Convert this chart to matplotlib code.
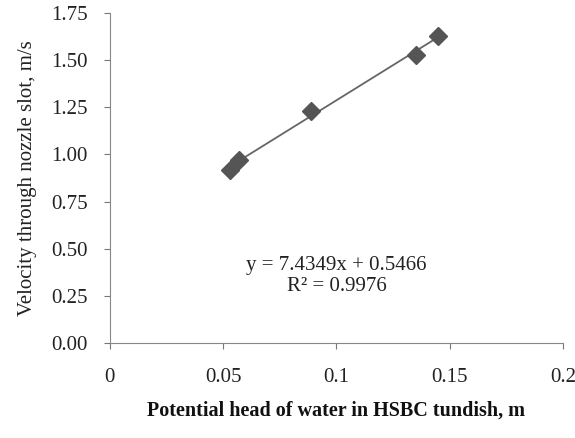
import numpy as np
import matplotlib
matplotlib.use('Agg')
import matplotlib.pyplot as plt

plt.rcParams['font.family'] = ['Liberation Serif', 'DejaVu Serif']

# potential head (m) and velocity (m/s)
head = [0.053, 0.057, 0.089, 0.135, 0.145]
velocity = [0.92, 0.97, 1.23, 1.53, 1.63]
xticks = [0, 0.05, 0.1, 0.15, 0.2]
xtick_labels = ['0', '0.05', '0.1', '0.15', '0.2']
yticks = [0, 0.25, 0.5, 0.75, 1.0, 1.25, 1.5, 1.75]

fig = plt.figure(figsize=(5.75, 4.38), dpi=100)
ax = fig.add_axes([0.191, 0.217, 0.788, 0.753])

# trendline
k, b = np.polyfit(head, velocity, 1)
xl = np.array([min(head), max(head)])
ax.plot(xl, k * xl + b, color='#666666', lw=1.3, zorder=2)
ax.plot(head, velocity, 'D', color='#555555', ms=9, zorder=3)

ax.text(0.1, 0.41, 'y = 7.4349x + 0.5466', ha='center', va='center',
        fontsize=15, color='#222222')
ax.text(0.1, 0.30, 'R² = 0.9976', ha='center', va='center',
        fontsize=15, color='#222222')

ax.set_xlim(0, 0.2)
ax.set_ylim(0, 1.75)
ax.set_xticks(xticks)
ax.set_xticklabels(xtick_labels)
ax.set_yticks(yticks)
ax.set_yticklabels(['%.2f' % v for v in yticks])
ax.tick_params(labelsize=15, length=4, color='#777777', labelcolor='#222222')
ax.tick_params(axis='x', pad=14)
ax.tick_params(axis='y', pad=12)

for s in ['top', 'right']:
    ax.spines[s].set_visible(False)
for s in ['left', 'bottom']:
    ax.spines[s].set_color('#888888')

ax.set_xlabel('Potential head of water in HSBC tundish, m', fontsize=14.5,
              fontweight='bold', labelpad=10, color='#111111')
ax.set_ylabel('Velocity through nozzle slot, m/s', fontsize=15, labelpad=10,
              color='#222222')

fig.savefig('out.png', dpi=100)
